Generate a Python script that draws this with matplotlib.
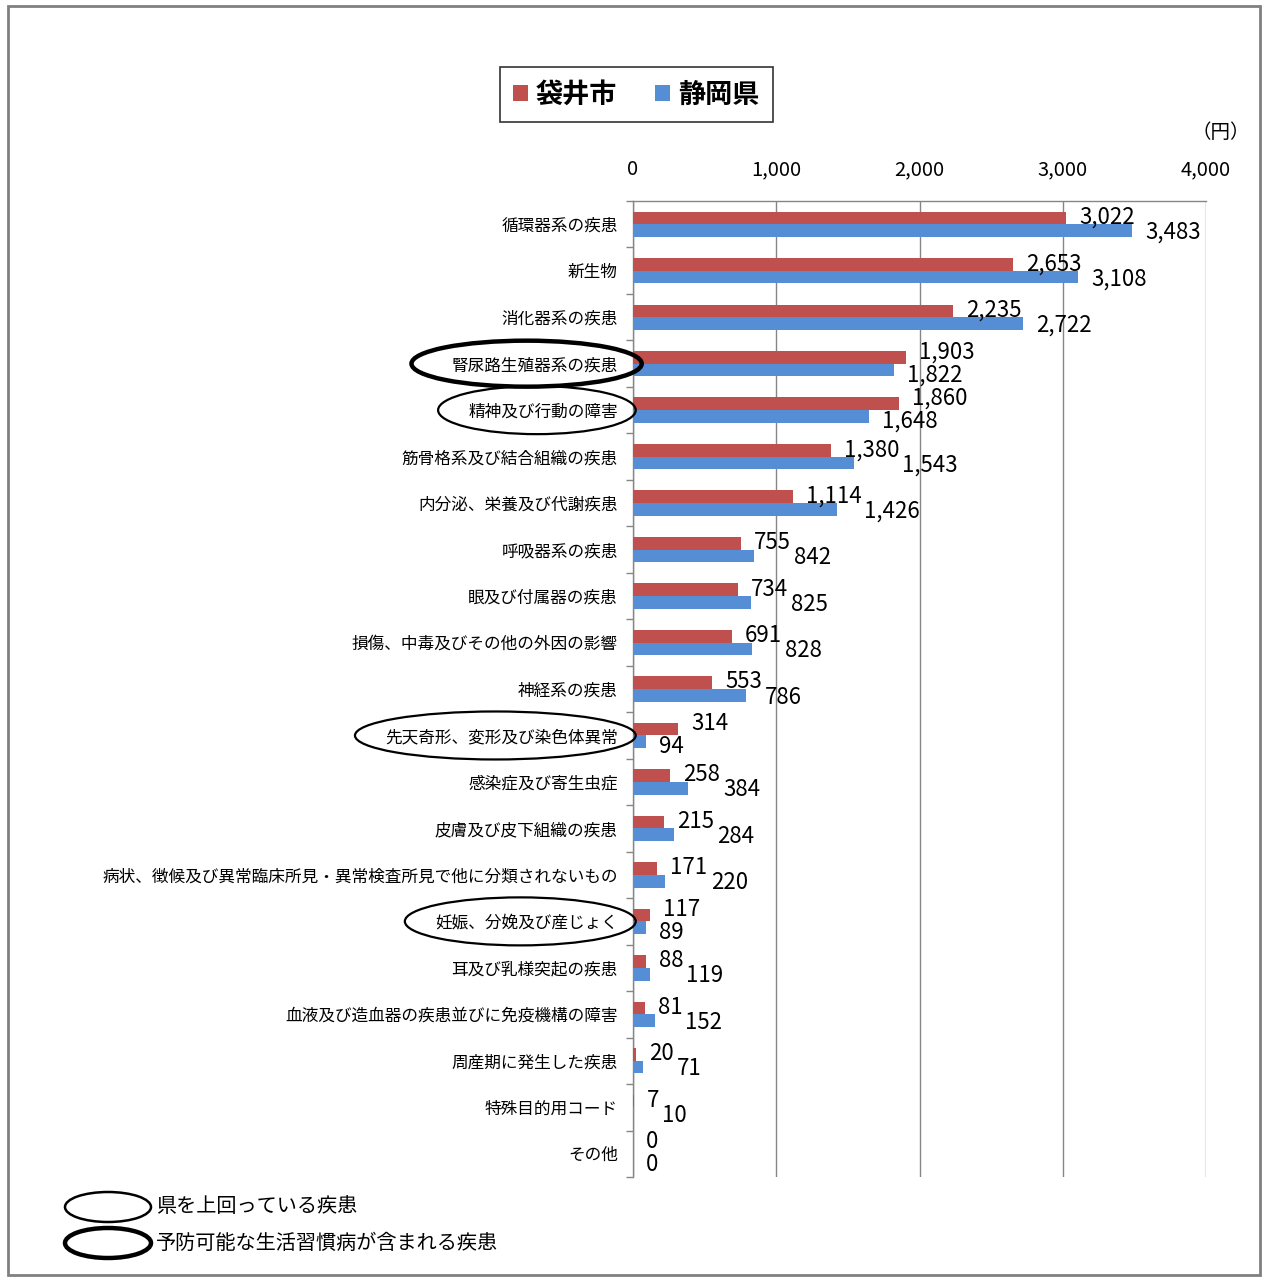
import matplotlib
matplotlib.use("Agg")
import matplotlib.pyplot as plt
import numpy as np
from matplotlib.patches import Ellipse, Patch, Rectangle
from matplotlib.transforms import IdentityTransform

plt.rcParams['font.family'] = ['Noto Sans CJK JP', 'DejaVu Sans']

# 疾病分類別 一人当たり医療費（円）
categories = [
    "循環器系の疾患", "新生物", "消化器系の疾患", "腎尿路生殖器系の疾患",
    "精神及び行動の障害", "筋骨格系及び結合組織の疾患", "内分泌、栄養及び代謝疾患",
    "呼吸器系の疾患", "眼及び付属器の疾患", "損傷、中毒及びその他の外因の影響",
    "神経系の疾患", "先天奇形、変形及び染色体異常", "感染症及び寄生虫症",
    "皮膚及び皮下組織の疾患",
    "病状、徴候及び異常臨床所見・異常検査所見で他に分類されないもの",
    "妊娠、分娩及び産じょく", "耳及び乳様突起の疾患",
    "血液及び造血器の疾患並びに免疫機構の障害", "周産期に発生した疾患",
    "特殊目的用コード", "その他",
]
fukuroi = [3022, 2653, 2235, 1903, 1860, 1380, 1114, 755, 734, 691, 553,
           314, 258, 215, 171, 117, 88, 81, 20, 7, 0]
shizuoka = [3483, 3108, 2722, 1822, 1648, 1543, 1426, 842, 825, 828, 786,
            94, 384, 284, 220, 89, 119, 152, 71, 10, 0]
series_names = ["袋井市", "静岡県"]
x_ticks = [0, 1000, 2000, 3000, 4000]

# 丸印: 県を上回っている疾患(細) / 予防可能な生活習慣病が含まれる疾患(太)
circled_thin = ["精神及び行動の障害", "先天奇形、変形及び染色体異常", "妊娠、分娩及び産じょく"]
circled_thick = ["腎尿路生殖器系の疾患"]

RED = "#C0504D"
BLUE = "#558ED5"
GRID = "#868686"

W, H = 1262, 1277
fig = plt.figure(figsize=(W / 100, H / 100), dpi=100)
ax = fig.add_axes([633 / W, 1 - 1177 / H, 573 / W, 976 / H])

y = np.arange(len(categories))
bh = 0.273
ax.barh(y - bh / 2, fukuroi, height=bh, color=RED, zorder=3)
ax.barh(y + bh / 2, shizuoka, height=bh, color=BLUE, zorder=3)

ax.set_xlim(0, 4000)
ax.set_ylim(len(categories) - 0.5, -0.5)
ax.xaxis.tick_top()
ax.set_xticks(x_ticks)
ax.set_xticklabels([f"{v:,}" for v in x_ticks], fontsize=14.5)
ax.tick_params(axis='x', length=0, pad=15)
ax.set_yticks(y)
ax.set_yticklabels(categories, fontsize=12)
ax.set_yticks(np.arange(-0.5, len(categories)), minor=True)
ax.tick_params(axis='y', which='major', length=0, pad=11)
ax.tick_params(axis='y', which='minor', length=5, color=GRID, width=1)
ax.grid(axis='x', color=GRID, linewidth=1, zorder=0)
ax.spines['bottom'].set_visible(False)
ax.spines['right'].set_visible(False)
for s in ('left', 'top'):
    ax.spines[s].set_color(GRID)
    ax.spines[s].set_linewidth(1)

fig.text(1221 / W, 1 - 132 / H, "（円）", fontsize=14, ha='center', va='center')

# 値ラベル（重なる場合は県の値を右へずらす）
fig.canvas.draw()
renderer = fig.canvas.get_renderer()
pad = 13
for i, (a, b) in enumerate(zip(fukuroi, shizuoka)):
    if a >= b:
        dy_red, dy_blue = 12, -11
    else:
        dy_red, dy_blue = 7, -8
    t_red = ax.annotate(f"{a:,}", (a, i), xytext=(pad, dy_red), textcoords='offset pixels',
                        fontsize=16, ha='left', va='center', zorder=5)
    red_box = t_red.get_window_extent(renderer)
    bx = ax.transData.transform((b, i))[0]
    x_blue = bx + pad
    if b > a and x_blue < red_box.x1 + 3:
        x_blue = red_box.x1 + 3
    ax.annotate(f"{b:,}", (b, i), xytext=(x_blue - bx, dy_blue), textcoords='offset pixels',
                fontsize=16, ha='left', va='center', zorder=5)

# 項目名を囲む楕円
fig.canvas.draw()
labels = {t.get_text(): t for t in ax.get_yticklabels()}
for name in circled_thin + circled_thick:
    bb = labels[name].get_window_extent(renderer)
    cy = ax.transData.transform((0, categories.index(name)))[1]
    thick = name in circled_thick
    x0, x1 = bb.x0 - (40 if thick else 30), bb.x1 + (24 if thick else 18)
    e = Ellipse(((x0 + x1) / 2, cy), x1 - x0, 46 if thick else 48,
                transform=IdentityTransform(), fill=False, edgecolor='black',
                linewidth=3.2 if thick else 1.6, zorder=10)
    fig.add_artist(e)

# 凡例
handles = [Patch(facecolor=RED), Patch(facecolor=BLUE)]
leg = fig.legend(handles, series_names, loc='center', bbox_to_anchor=(636.5 / W, 1 - 94.5 / H),
                 ncol=2, frameon=True, fancybox=False, edgecolor='black',
                 prop={'size': 19.5, 'weight': 'bold'}, handlelength=0.55, handleheight=0.55,
                 handletextpad=0.3, columnspacing=1.4, borderpad=0.5, borderaxespad=0)
leg.get_frame().set_linewidth(1.2)

# 丸印の説明
notes = ["県を上回っている疾患", "予防可能な生活習慣病が含まれる疾患"]
for k, (txt, lw) in enumerate(zip(notes, [1.8, 3.2])):
    cy = 1207 + 36 * k
    fig.add_artist(Ellipse((108 / W, 1 - cy / H), 86 / W, 30 / H, transform=fig.transFigure,
                           fill=False, edgecolor='black', linewidth=lw))
    fig.text(156 / W, 1 - cy / H, txt, fontsize=14.5, ha='left', va='center')

# 外枠
fig.add_artist(Rectangle((8 / W, 1 - 1275 / H), 1252 / W, 1269 / H, transform=fig.transFigure,
                         fill=False, edgecolor='#808080', linewidth=2))

fig.savefig("out.png", dpi=100)
